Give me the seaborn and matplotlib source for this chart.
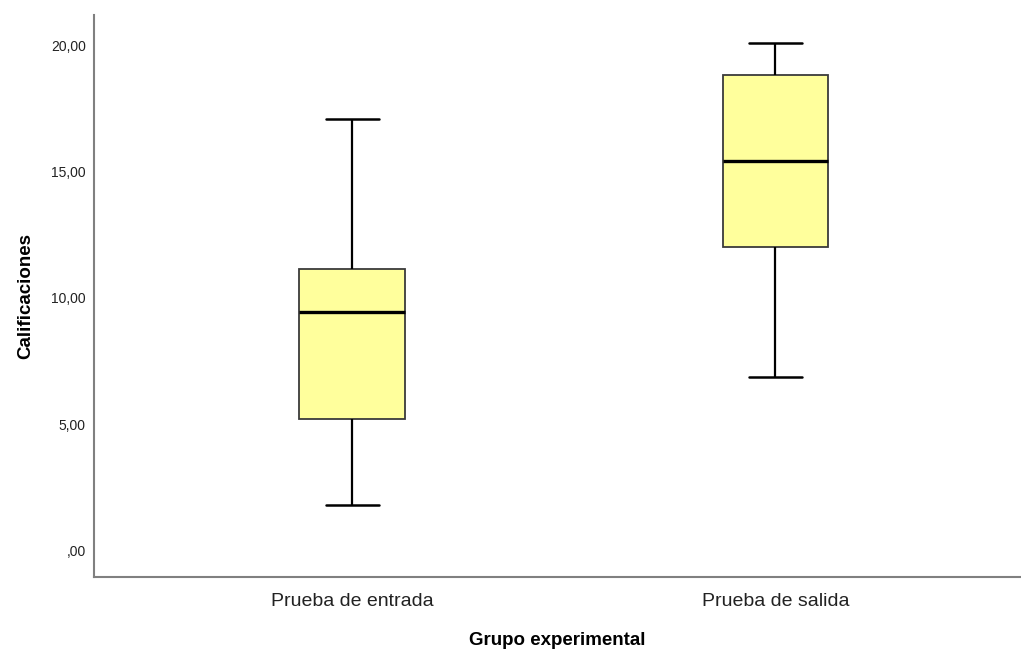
import matplotlib
matplotlib.use("Agg")
import matplotlib.pyplot as plt
import seaborn as sns
import pandas as pd

# Five-number summaries per group (min, Q1, median, Q3, max)
groups = ["Prueba de entrada", "Prueba de salida"]
entrada = [1.78, 5.19, 9.42, 11.12, 17.06]
salida = [6.85, 12.00, 15.40, 18.80, 20.07]
yticks = [0, 5, 10, 15, 20]
ytick_labels = [",00", "5,00", "10,00", "15,00", "20,00"]

df = pd.DataFrame({
    "grupo": [groups[0]] * len(entrada) + [groups[1]] * len(salida),
    "nota": entrada + salida,
})

sns.set_theme(style="white")
plt.rcParams["font.family"] = ["Liberation Sans", "DejaVu Sans"]

fig = plt.figure(figsize=(10.21, 6.51), dpi=100)
ax = fig.add_axes([94 / 1021, 74.5 / 651, (1021 - 94) / 1021, (576.5 - 15) / 651])

sns.boxplot(
    data=df, x="grupo", y="nota", ax=ax, width=0.25, whis=100,
    color="#FFFF9C", saturation=1, linecolor="#222222", linewidth=1.3,
    boxprops=dict(edgecolor="#3a3a3a"),
    whiskerprops=dict(color="black", linewidth=1.6),
    capprops=dict(color="black", linewidth=1.8),
    medianprops=dict(color="black", linewidth=2.4),
    fliersize=0,
)

ax.set_xlim(-0.61, 1.58)
ax.set_ylim(-1.03, 21.19)
ax.set_yticks(yticks)
ax.set_yticklabels(ytick_labels)
ax.tick_params(axis="both", length=0)
ax.tick_params(axis="y", labelsize=10, labelcolor="#222222", pad=6)
ax.tick_params(axis="x", labelsize=14, labelcolor="#222222", pad=12)

for side in ["top", "right"]:
    ax.spines[side].set_visible(False)
for side in ["left", "bottom"]:
    ax.spines[side].set_color("#808080")
    ax.spines[side].set_linewidth(1.5)

ax.set_xlabel("Grupo experimental", fontsize=13.5, fontweight="bold",
              color="black", labelpad=16)
ax.set_ylabel("Calificaciones", fontsize=13.5, fontweight="bold",
              color="black", labelpad=12)

fig.savefig("out.png", dpi=100, facecolor="white")
